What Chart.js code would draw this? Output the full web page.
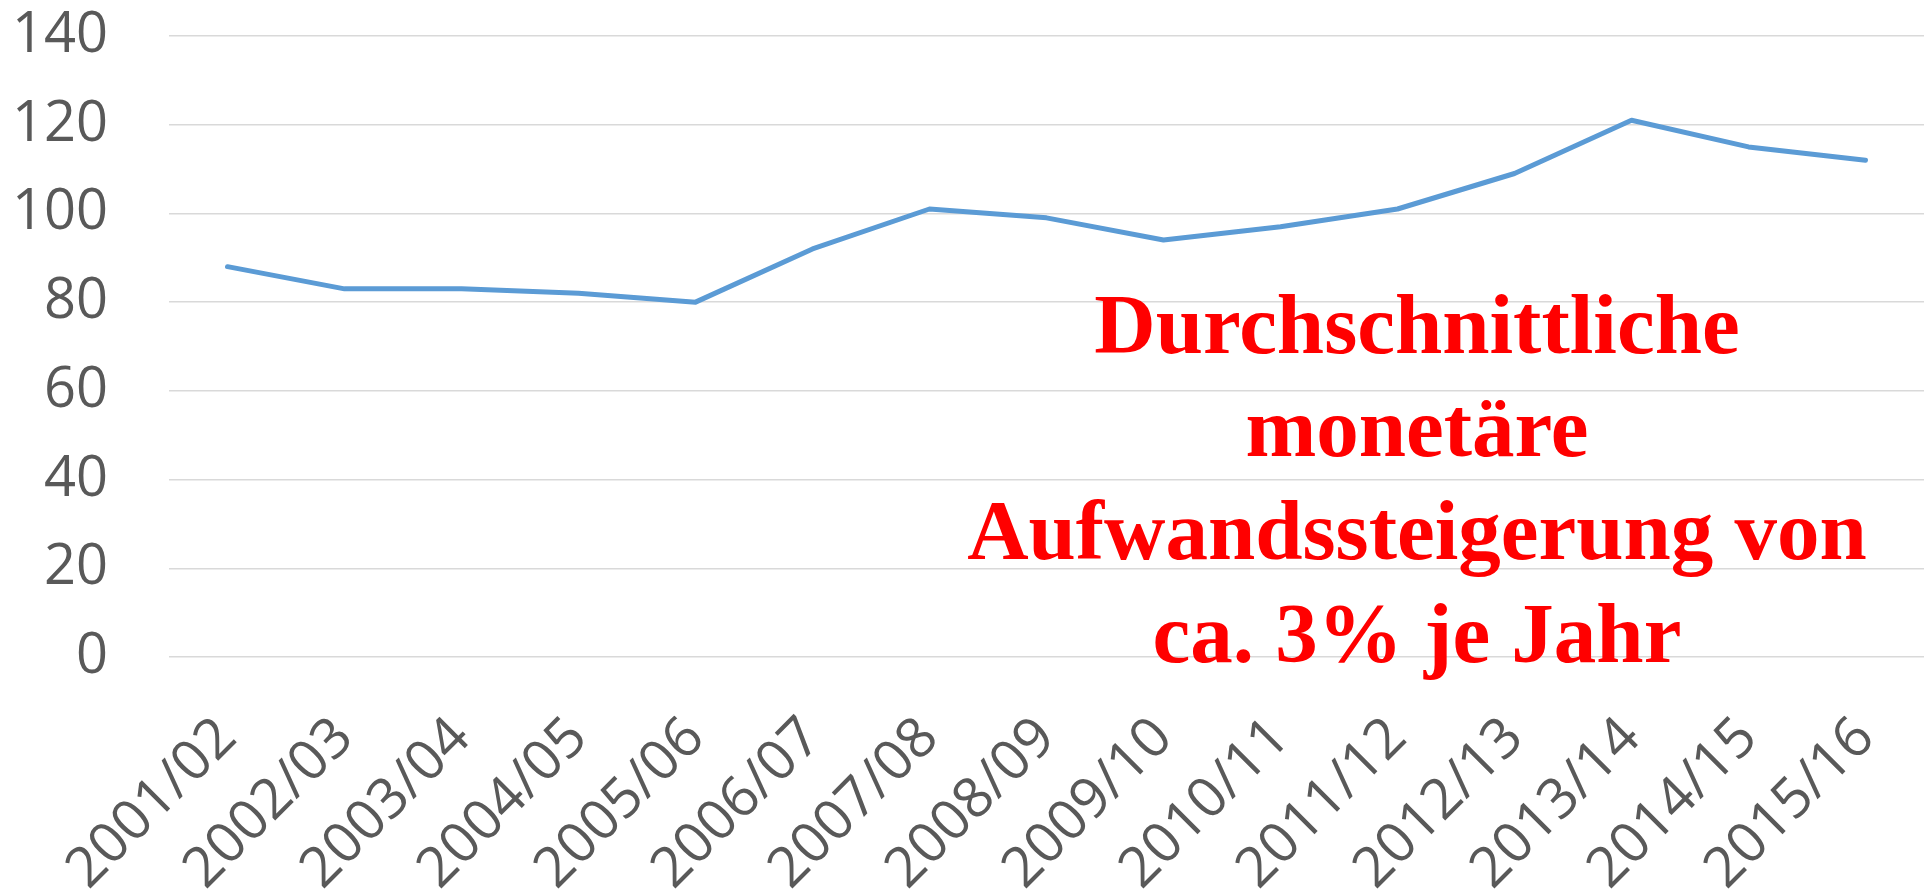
<!DOCTYPE html>
<html>
<head>
  <meta charset="UTF-8">
  <title>Aufwandssteigerung</title>
  <script src="https://cdn.jsdelivr.net/npm/chart.js"></script>
  <style>
    body { margin: 0; background: #fff; }
    .wrap { position: relative; width: 1924px; height: 894px; }
    #chart { display: block; }
    .note {
      position: absolute; left: 917px; top: 273px; width: 1000px;
      text-align: center; color: #ff0000;
      font-family: "Liberation Serif", "Times New Roman", serif;
      font-weight: bold; font-size: 85px; line-height: 103px;
    }
  </style>
</head>
<body>
  <div class="wrap">
    <canvas id="chart" width="1924" height="894"></canvas>
    <div class="note">Durchschnittliche<br>monetäre<br>Aufwandssteigerung von<br>ca. 3% je Jahr</div>
  </div>

  <script>
    // data
    const years = ['2001/02', '2002/03', '2003/04', '2004/05', '2005/06', '2006/07', '2007/08', '2008/09',
                   '2009/10', '2010/11', '2011/12', '2012/13', '2013/14', '2014/15', '2015/16'];
    const values = [88, 83, 83, 82, 80, 92, 101, 99, 94, 97, 101, 109, 121, 115, 112];
    const yMin = 0, yMax = 140, yStep = 20;

    const tickFont = { family: '"Open Sans", sans-serif', size: 56 };

    new Chart(document.getElementById('chart').getContext('2d'), {
      type: 'line',
      data: {
        labels: years,
        datasets: [{
          data: values,
          borderColor: '#5b9bd5',
          borderWidth: 5,
          borderCapStyle: 'round',
          borderJoinStyle: 'round',
          pointRadius: 0,
          tension: 0,
          fill: false
        }]
      },
      options: {
        responsive: false,
        animation: false,
        devicePixelRatio: 1,
        layout: { padding: { top: 36, left: 0, right: 0, bottom: 0 } },
        plugins: { legend: { display: false }, tooltip: { enabled: false } },
        scales: {
          x: {
            offset: true,
            grid: { display: false, drawTicks: false },
            border: { display: false },
            ticks: { color: '#595959', font: tickFont, maxRotation: 45, minRotation: 45, padding: 48, autoSkip: false },
            afterFit: (axis) => { axis.height = 237; axis.paddingLeft = 0; axis.paddingRight = 0; }
          },
          y: {
            min: yMin, max: yMax,
            grid: { color: '#d9d9d9', lineWidth: 1.5, drawTicks: false },
            border: { display: false },
            ticks: { stepSize: yStep, color: '#595959', font: tickFont, padding: 61 },
            afterFit: (axis) => { axis.width = 169; axis.paddingTop = 0; axis.paddingBottom = 0; }
          }
        }
      }
    });
  </script>
</body>
</html>
